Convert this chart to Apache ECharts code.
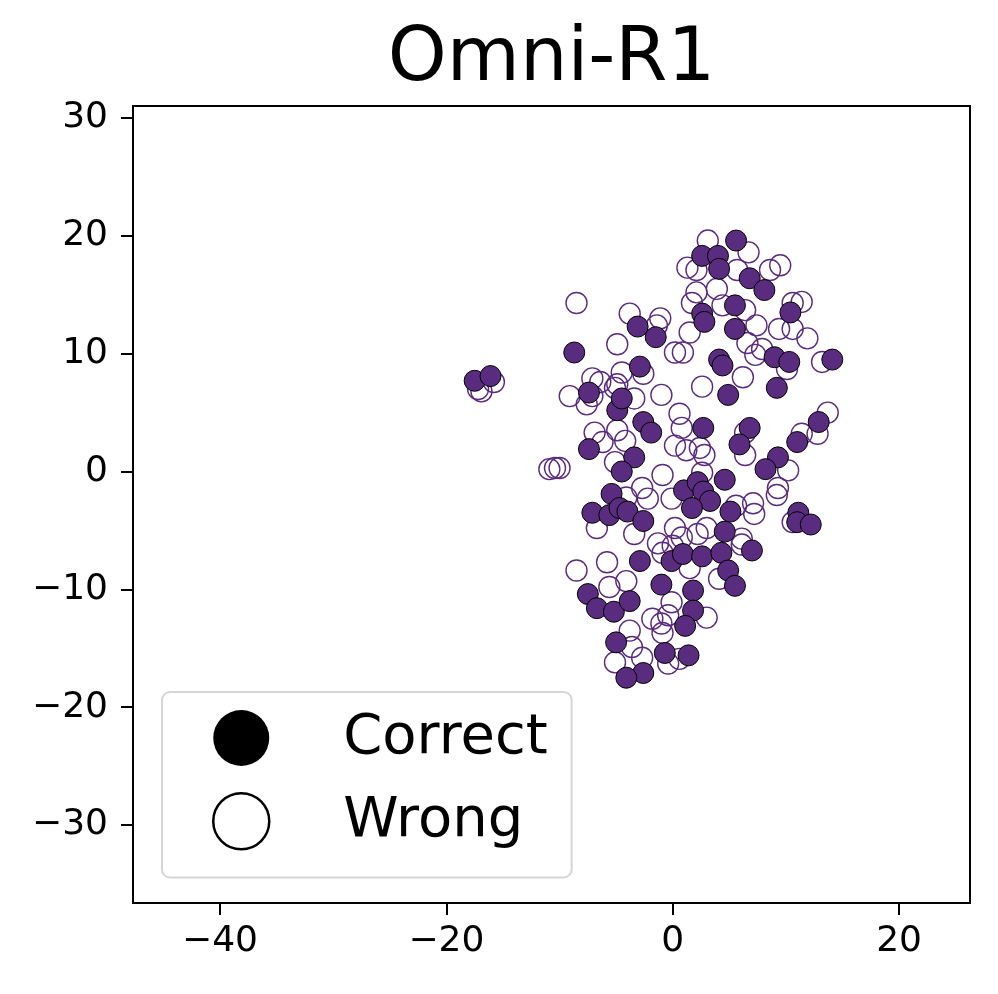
<!DOCTYPE html>
<html>
<head>
<meta charset="utf-8">
<script src="https://cdn.jsdelivr.net/npm/echarts@6/dist/echarts.min.js"></script>
<style>
html,body{margin:0;padding:0;background:#fff;}
#chart{width:998px;height:994px;}
</style>
</head>
<body>
<div id="chart"></div>
<script>
const titleText = 'Omni-R1';
const seriesNames = ['Correct', 'Wrong'];
const xTicks = [-40, -20, 0, 20];
const yTicks = [-30, -20, -10, 0, 10, 20, 30];

const correctPoints = [
  [-17.5,7.7],[-16.1,8.1],[-8.7,10.1],[-7.4,6.7],[-7.4,1.9],[-3.1,12.3],[-1.5,11.4],[-2.9,8.9],
  [-4.9,5.2],[-4.5,6.2],[-2.6,4.2],[-1.9,3.3],[-3.4,1.2],[-4.5,0.0],[-5.4,-1.9],[-7.1,-3.5],
  [-5.6,-3.7],[-4.7,-3.1],[-4.0,-3.4],[-2.6,-4.2],[-2.9,-7.6],[-0.1,-7.6],[0.9,-7.0],[2.6,-7.2],
  [-1.0,-9.6],[-7.5,-10.4],[-6.7,-11.6],[-5.2,-11.9],[-3.8,-11.0],[1.8,-10.1],[1.8,-11.8],[1.1,-13.1],
  [-5.0,-14.5],[-0.7,-15.4],[1.4,-15.6],[-2.6,-17.1],[-4.1,-17.5],
  [2.6,18.3],[4.0,18.3],[4.1,17.2],[5.6,19.6],[6.8,16.4],[8.1,15.4],[2.6,13.4],[2.8,12.7],
  [5.5,14.1],[5.5,12.1],[4.1,9.5],[4.4,9.0],[4.9,6.5],[10.4,13.5],[9.0,9.7],[10.3,9.3],[9.2,7.1],
  [14.1,9.5],[2.7,3.7],[6.8,3.7],[5.9,2.3],[12.9,4.2],[11.0,2.5],[9.3,1.2],[8.2,0.2],[4.6,-0.7],
  [1.0,-1.6],[2.2,-0.9],[2.7,-1.7],[3.3,-2.5],[1.7,-3.1],[5.1,-3.4],[4.6,-5.1],[4.3,-6.9],
  [7.0,-6.7],[4.9,-8.4],[5.5,-9.7],[11.1,-3.5],[11.0,-4.3],[12.2,-4.5]
];

const wrongPoints = [
  [-16.9,6.8],[-17.2,7.0],[-15.8,7.6],[-10.9,0.2],[-10.4,0.3],[-10.0,0.3],[-8.5,14.3],[-8.5,-8.4],
  [-9.1,6.4],[-7.1,7.9],[-7.6,5.7],[-7.1,6.4],[-4.9,10.8],[-4.5,8.4],[-4.9,7.4],[-6.4,7.6],
  [-5.1,7.1],[-3.4,6.2],[-3.8,13.4],[-1.1,13.0],[-1.4,12.4],[-2.6,8.3],[-1.0,6.5],[0.2,10.1],
  [0.9,10.1],[1.5,11.8],[-6.9,3.3],[-6.2,2.5],[-4.9,3.5],[-4.2,2.6],[-5.1,0.8],[0.6,4.9],
  [0.8,3.7],[0.2,2.2],[1.2,1.8],[-0.9,-0.3],[-2.7,-1.4],[-2.2,-2.3],[-4.1,-2.2],[-0.1,-2.3],
  [-6.7,-4.8],[-3.4,-5.3],[0.2,-4.8],[0.8,-5.6],[-5.8,-7.7],[-1.3,-6.1],[-0.9,-6.9],[0.0,-6.3],
  [-5.6,-9.8],[-4.1,-9.3],[-1.8,-12.5],[-1.0,-12.9],[-0.4,-12.2],[-0.1,-11.1],[-0.9,-13.7],
  [-3.8,-13.5],[-3.6,-14.9],[-2.7,-15.8],[-5.1,-16.2],[-0.4,-16.3],[0.6,-15.9],
  [3.1,19.6],[6.7,18.6],[1.3,17.3],[2.1,17.1],[5.7,17.1],[8.6,17.1],[9.5,17.5],[3.9,15.5],
  [2.1,15.2],[1.7,14.3],[4.4,14.1],[6.4,13.7],[10.6,14.3],[11.4,14.4],[7.4,12.4],[9.4,12.1],
  [10.6,12.1],[11.9,11.3],[6.6,10.9],[7.9,10.4],[7.3,9.9],[13.2,9.3],[10.1,8.7],[6.2,8.0],
  [2.6,7.2],[6.4,3.3],[6.4,1.4],[13.7,5.0],[11.4,3.2],[12.8,3.2],[10.2,0.1],[9.3,-1.4],
  [9.2,-2.0],[2.4,2.0],[2.8,1.4],[2.6,-0.1],[5.6,-2.9],[7.1,-2.7],[7.2,-3.6],[10.6,-4.3],
  [3.0,-4.8],[2.2,-5.3],[6.1,-5.7],[6.1,-6.2],[4.1,-9.1],[3.0,-12.4],[1.5,-8.2]
];

const PURPLE = '#5a2c7f';
const FONT = 'DejaVu Sans';
const fmt = v => (v < 0 ? '\u2212' + Math.abs(v) : String(v));

const chart = echarts.init(document.getElementById('chart'), null, {renderer: 'canvas'});
const option = {
  animation: false,
  backgroundColor: '#fff',
  title: {
    text: titleText,
    left: 551.5,
    textAlign: 'center',
    top: 23,
    padding: 0,
    textStyle: {fontFamily: FONT, fontSize: 75, fontWeight: 'normal', color: '#000'}
  },
  grid: {left: 133, right: 28, top: 106, bottom: 91, show: true, borderColor: '#000', borderWidth: 2, backgroundColor: 'transparent'},
  xAxis: {
    type: 'value', min: -47.69, max: 26.27,
    axisLine: {show: true, onZero: false, lineStyle: {color: '#000', width: 2}},
    axisTick: {show: true, customValues: xTicks, length: 12, lineStyle: {color: '#000', width: 2}},
    axisLabel: {customValues: xTicks, formatter: fmt, fontFamily: FONT, fontSize: 36, color: '#000', margin: 21},
    splitLine: {show: false}
  },
  yAxis: {
    type: 'value', min: -36.62, max: 31.02,
    axisLine: {show: true, onZero: false, lineStyle: {color: '#000', width: 2}},
    axisTick: {show: true, customValues: yTicks, length: 12, lineStyle: {color: '#000', width: 2}},
    axisLabel: {customValues: yTicks, formatter: fmt, fontFamily: FONT, fontSize: 36, color: '#000', margin: 25},
    splitLine: {show: false}
  },
  legend: {
    orient: 'vertical',
    left: 162, top: 692,
    backgroundColor: '#fff', borderColor: '#d6d6d6', borderWidth: 2, borderRadius: 8,
    padding: [18, 24, 27, 50],
    itemWidth: 56, itemHeight: 56, itemGap: 26,
    selectedMode: false,
    textStyle: {fontFamily: FONT, fontSize: 56, color: '#000', lineHeight: 56, padding: [0, 0, 0, 69]},
    data: [
      {name: seriesNames[0], icon: 'circle', itemStyle: {color: '#000', borderColor: '#000', borderWidth: 0, opacity: 1}},
      {name: seriesNames[1], icon: 'circle', itemStyle: {color: '#fff', borderColor: '#000', borderWidth: 2.5, opacity: 1}}
    ]
  },
  series: [
    {
      type: 'scatter', name: seriesNames[1], data: wrongPoints, symbol: 'circle', symbolSize: 21,
      itemStyle: {color: 'rgba(255,255,255,0)', borderColor: PURPLE, borderWidth: 1.4, opacity: 1},
      emphasis: {disabled: true}, z: 2
    },
    {
      type: 'scatter', name: seriesNames[0], data: correctPoints, symbol: 'circle', symbolSize: 21,
      itemStyle: {color: PURPLE, borderColor: '#000', borderWidth: 1, opacity: 1},
      emphasis: {disabled: true}, z: 3
    }
  ]
};
chart.setOption(option);
</script>
</body>
</html>
